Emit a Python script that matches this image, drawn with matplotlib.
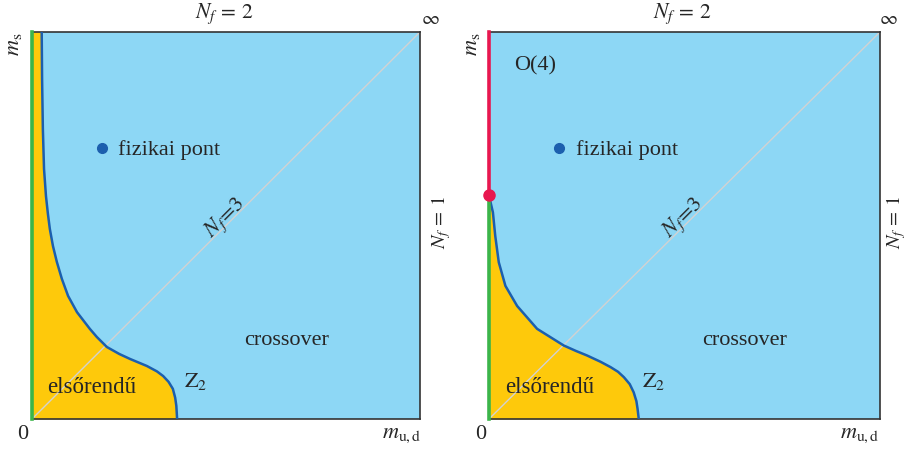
import numpy as np
import matplotlib
matplotlib.use('Agg')
import matplotlib.pyplot as plt

plt.rcParams['font.family'] = ['Liberation Serif', 'DejaVu Serif']
plt.rcParams['mathtext.fontset'] = 'stix'

W, H = 910, 452

# Z2 boundary line of the first order region, (m_ud, m_s) in units of the box
LEFT_CURVE_X = [0.025, 0.026, 0.028, 0.031, 0.036, 0.041, 0.046, 0.054, 0.064,
                0.077, 0.093, 0.116, 0.149, 0.167, 0.193, 0.225, 0.253, 0.296,
                0.322, 0.338, 0.352, 0.363, 0.369, 0.372, 0.374]
LEFT_CURVE_Y = [1.0, 0.879, 0.749, 0.646, 0.576, 0.530, 0.491, 0.447, 0.406,
                0.362, 0.318, 0.276, 0.233, 0.212, 0.186, 0.168, 0.155, 0.137,
                0.123, 0.111, 0.096, 0.078, 0.055, 0.034, 0.0]

RIGHT_CURVE_X = [0.0, 0.004, 0.010, 0.016, 0.025, 0.042, 0.072, 0.123, 0.191,
                 0.222, 0.251, 0.285, 0.311, 0.330, 0.345, 0.360, 0.370, 0.377,
                 0.380, 0.383]
RIGHT_CURVE_Y = [0.579, 0.560, 0.534, 0.473, 0.405, 0.344, 0.292, 0.233, 0.190,
                 0.176, 0.164, 0.148, 0.134, 0.122, 0.108, 0.090, 0.069, 0.046,
                 0.026, 0.0]

TRICRITICAL = (0.0, 0.579)
PHYSICAL_POINT = (0.18, 0.70)

BLUE_BG = '#8dd7f5'
YELLOW = '#fec90b'
LINE_BLUE = '#1c5fae'
GREEN = '#3bb54a'
RED = '#e8174f'
DIAG = '#d2d2d2'
INK = '#262626'


def panel(rect, cx, cy, o4=False):
    ax = fig.add_axes(rect)
    ax.set_xlim(0, 1)
    ax.set_ylim(0, 1)
    ax.set_facecolor(BLUE_BG)
    ax.set_xticks([])
    ax.set_yticks([])
    for side in ['top', 'bottom', 'right']:
        ax.spines[side].set_color('#333333')
        ax.spines[side].set_linewidth(1.2)
    ax.spines['left'].set_visible(False)

    cx = np.array(cx)
    cy = np.array(cy)
    ax.fill_betweenx(cy, 0, cx, color=YELLOW, lw=0, zorder=1)
    ax.plot([0, 1], [0, 1], color=DIAG, lw=1.0, zorder=2)
    ax.plot(cx, cy, color=LINE_BLUE, lw=1.8, zorder=3,
            solid_capstyle='butt', solid_joinstyle='round')

    if o4:
        ax.plot([0, 0], [0, TRICRITICAL[1]], color=GREEN, lw=2.6, zorder=4, clip_on=False)
        ax.plot([0, 0], [TRICRITICAL[1], 1], color=RED, lw=2.6, zorder=4, clip_on=False)
        ax.plot(*TRICRITICAL, 'o', color=RED, ms=8, zorder=5, clip_on=False)
    else:
        ax.plot([0, 0], [0, 1], color=GREEN, lw=2.6, zorder=4, clip_on=False)

    ax.plot(*PHYSICAL_POINT, 'o', color=LINE_BLUE, ms=7, zorder=5)
    return ax


def ftext(x, y, s, **kw):
    kw.setdefault('ha', 'center')
    kw.setdefault('va', 'center')
    kw.setdefault('color', INK)
    kw.setdefault('fontsize', 16)
    fig.text(x / W, 1 - y / H, s, **kw)


fig = plt.figure(figsize=(W / 100, H / 100), dpi=100)

panels = [(32, 388, 0), (489, 391, 458)]
for i, (x0, w, dx) in enumerate(panels):
    rect = [x0 / W, 32 / H, w / W, 387 / H]
    if i == 0:
        panel(rect, LEFT_CURVE_X, LEFT_CURVE_Y)
    else:
        panel(rect, RIGHT_CURVE_X, RIGHT_CURVE_Y, o4=True)

    ftext(224 + dx, 14, r'$N_f\,=\,2$', fontsize=15.5)
    ftext(430 + dx, 19, r'$\infty$', fontsize=14)
    ftext(14 + dx, 44, r'$m_{\rm s}$', fontsize=16, rotation=90)
    ftext(23 + dx, 435, '0', fontsize=16)
    ftext(402 + dx, 436, r'$m_{\rm u,d}$', fontsize=16)
    ftext(441 + dx if i == 0 else 896, 223, r'$N_f\,=\,1$', fontsize=14.5, rotation=90)
    ftext(226 + dx, 218, r'$N_f\!=\!3$', fontsize=16, rotation=45)
    ftext(118 + dx, 150, 'fizikai pont', ha='left')
    ftext(287 + dx, 341, 'crossover')
    ftext(92 + dx, 388, 'elsőrendű', fontsize=16.5)
    ftext(196 + dx, 381, r'$\mathrm{Z}_2$', fontsize=16)

ftext(535, 66, 'O(4)')

fig.savefig('out.png', dpi=100)
